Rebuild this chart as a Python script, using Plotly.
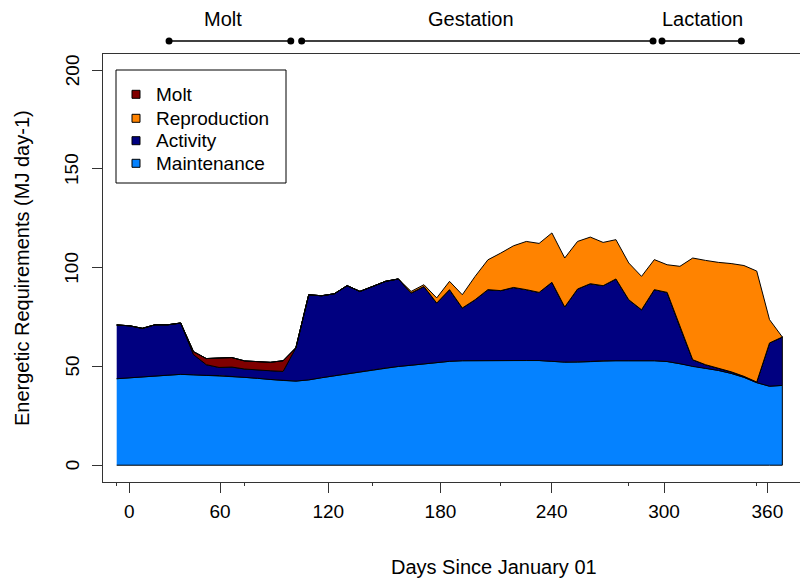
import numpy as np
import plotly.graph_objects as go

# ---------------- data (weekly samples, index 0..52) ----------------
weeks = list(range(53))
maintenance = [43.8, 44.2, 44.6, 45.1, 45.6, 46.0, 45.8, 45.5, 45.4, 45.0,
               44.5, 44.0, 43.4, 42.9, 42.6, 43.2, 44.3, 45.3, 46.3, 47.3,
               48.3, 49.2, 50.0, 50.6, 51.3, 52.0, 52.6, 52.9, 53.0, 53.0,
               53.0, 53.0, 53.0, 53.0, 52.6, 52.2, 52.2, 52.5, 52.9, 52.9,
               52.9, 52.9, 52.9, 52.5, 51.4, 50.0, 49.0, 48.0, 46.5, 44.5,
               41.8, 40.0, 40.4]
activity = [27.2, 26.4, 24.7, 26.0, 25.5, 26.0, 10.2, 5.4, 4.1, 4.7,
            4.2, 4.3, 4.4, 4.6, 16.9, 43.1, 41.5, 41.5, 44.6, 40.7,
            42.2, 43.9, 44.3, 36.6, 39.2, 30.1, 36.3, 26.7, 30.8, 35.9,
            35.4, 37.0, 35.9, 34.5, 40.0, 27.9, 37.0, 39.4, 38.0, 41.4,
            30.9, 25.8, 36.0, 35.0, 18.6, 3.4, 1.9, 1.2, 0.8, 0.5,
            0.3, 21.9, 24.5]
molt = [0, 0, 0, 0, 0, 0, 1.5, 3.1, 4.8, 4.8,
        4.1, 4.1, 4.3, 5.4, 0, 0, 0, 0, 0, 0,
        0, 0, 0, 0, 0, 0, 0, 0, 0, 0,
        0, 0, 0, 0, 0, 0, 0, 0, 0, 0,
        0, 0, 0, 0, 0, 0, 0, 0, 0, 0,
        0, 0, 0]
reproduction = [0, 0, 0, 0, 0, 0, 0, 0, 0, 0,
                0, 0, 0, 0, 0, 0, 0, 0, 0, 0,
                0, 0, 0, 0.8, 0.9, 2.6, 4.2, 6.7, 11.8, 15.1,
                19.0, 21.1, 24.4, 24.8, 25.0, 24.8, 24.1, 23.6, 21.9, 19.9,
                18.6, 16.9, 15.2, 14.0, 30.7, 51.5, 52.8, 53.5, 54.8, 56.1,
                56.2, 11.8, 0]

# x tick labels (days) and their positions on the weekly index axis
day_tick_pos = [0.98, 8.07, 16.53, 25.29, 33.98, 42.76, 50.83]
day_tick_text = ["0", "60", "120", "180", "240", "300", "360"]
minor_tick_pos = [0, 10, 20, 30, 40, 50]
y_ticks = [0, 50, 100, 150, 200]

# life-history phases (weekly index axis)
phase_names = ["Molt", "Gestation", "Lactation"]
phase_start = [4.09, 14.45, 42.6]
phase_end = [13.6, 41.9, 48.8]
phase_label_pos = [8.3, 27.64, 45.78]

layer_names = ["Maintenance", "Activity", "Molt", "Reproduction"]
layer_values = [maintenance, activity, molt, reproduction]
layer_colors = ["#0582FF", "#000080", "#800000", "#FF8300"]
legend_order = ["Molt", "Reproduction", "Activity", "Maintenance"]

# ---------------- geometry ----------------
W, H = 800, 581
L, T, B = 103, 54, 482
R = 800
XR = [-1.07, 53.38]
YR = [-8.5, 208.2]
FONT = "Liberation Sans, Arial, Helvetica, sans-serif"


def px_x(px):
    return (px - L) / (R - L)


def px_y(py):
    return (B - py) / (B - T)


def data_to_paper_x(x):
    return (x - XR[0]) / (XR[1] - XR[0])


fig = go.Figure()

lower = np.zeros(len(weeks))
for name, vals, col in zip(layer_names, layer_values, layer_colors):
    upper = lower + np.array(vals, dtype=float)
    xs = list(weeks) + list(weeks[::-1])
    ys = list(upper) + list(lower[::-1])
    fig.add_trace(go.Scatter(x=xs, y=ys, fill="toself", fillcolor=col,
                             mode="lines", line=dict(color="black", width=1),
                             name=name, showlegend=False, hoverinfo="skip"))
    lower = upper

shapes = []
annotations = []

# legend box
shapes.append(dict(type="rect", xref="paper", yref="paper",
                   x0=px_x(116), x1=px_x(286), y0=px_y(183), y1=px_y(70),
                   line=dict(color="black", width=1), fillcolor="white", layer="above"))
leg_y = [94.3, 118.3, 140.7, 163.3]
for nm, ly in zip(legend_order, leg_y):
    col = layer_colors[layer_names.index(nm)]
    shapes.append(dict(type="rect", xref="paper", yref="paper",
                       x0=px_x(132), x1=px_x(140), y0=px_y(ly + 4), y1=px_y(ly - 4),
                       line=dict(color="black", width=1), fillcolor=col, layer="above"))
    annotations.append(dict(text=nm, xref="paper", yref="paper", x=px_x(154), y=px_y(ly),
                            xanchor="left", yanchor="middle", showarrow=False,
                            font=dict(family=FONT, size=19, color="black")))

# rotated y tick labels (placed on the y scale)
for yv in y_ticks:
    annotations.append(dict(text=str(yv), xref="paper", yref="y", x=px_x(72), y=yv,
                            xanchor="center", yanchor="middle", textangle=-90,
                            showarrow=False, font=dict(family=FONT, size=19, color="black")))

# phase bars above the plot
seg_y = px_y(41)
for nm, s, e, lp in zip(phase_names, phase_start, phase_end, phase_label_pos):
    x0, x1 = data_to_paper_x(s), data_to_paper_x(e)
    shapes.append(dict(type="line", xref="paper", yref="paper", x0=x0, x1=x1,
                       y0=seg_y, y1=seg_y, line=dict(color="black", width=1.5)))
    for xx in (x0, x1):
        shapes.append(dict(type="circle", xref="paper", yref="paper",
                           x0=xx - 3.5 / (R - L), x1=xx + 3.5 / (R - L),
                           y0=seg_y - 3.5 / (B - T), y1=seg_y + 3.5 / (B - T),
                           fillcolor="black", line=dict(color="black", width=0)))
    annotations.append(dict(text=nm, xref="paper", yref="paper",
                            x=data_to_paper_x(lp), y=px_y(19),
                            xanchor="center", yanchor="middle", showarrow=False,
                            font=dict(family=FONT, size=20, color="black")))

# axis titles
annotations.append(dict(text="Days Since January 01", xref="paper", yref="paper",
                        x=px_x(494), y=px_y(567), xanchor="center", yanchor="middle",
                        showarrow=False, font=dict(family=FONT, size=20, color="black")))
annotations.append(dict(text="Energetic Requirements (MJ day-1)", xref="paper", yref="paper",
                        x=px_x(22), y=px_y(268), xanchor="center", yanchor="middle",
                        textangle=-90, showarrow=False,
                        font=dict(family=FONT, size=20, color="black")))

fig.update_layout(
    width=W, height=H,
    margin=dict(l=L, r=W - R, t=T, b=H - B, pad=0),
    paper_bgcolor="white", plot_bgcolor="white",
    font=dict(family=FONT, size=19, color="black"),
    shapes=shapes, annotations=annotations,
    showlegend=False,
    xaxis=dict(range=XR, tickmode="array", tickvals=day_tick_pos, ticktext=day_tick_text,
               ticks="outside", ticklen=10, tickcolor="#333", tickwidth=1,
               minor=dict(tickmode="array", tickvals=minor_tick_pos, ticks="outside",
                          ticklen=3, tickcolor="#333", showgrid=False),
               showline=True, linecolor="#333", linewidth=1, mirror=True,
               showgrid=False, zeroline=False, ticklabelstandoff=2,
               tickfont=dict(family=FONT, size=19, color="black")),
    yaxis=dict(range=YR, tickmode="array", tickvals=y_ticks, showticklabels=False,
               ticks="outside", ticklen=10, tickcolor="#333", tickwidth=1,
               showline=True, linecolor="#333", linewidth=1,
               showgrid=False, zeroline=False),
)

fig.write_html("out.html")
